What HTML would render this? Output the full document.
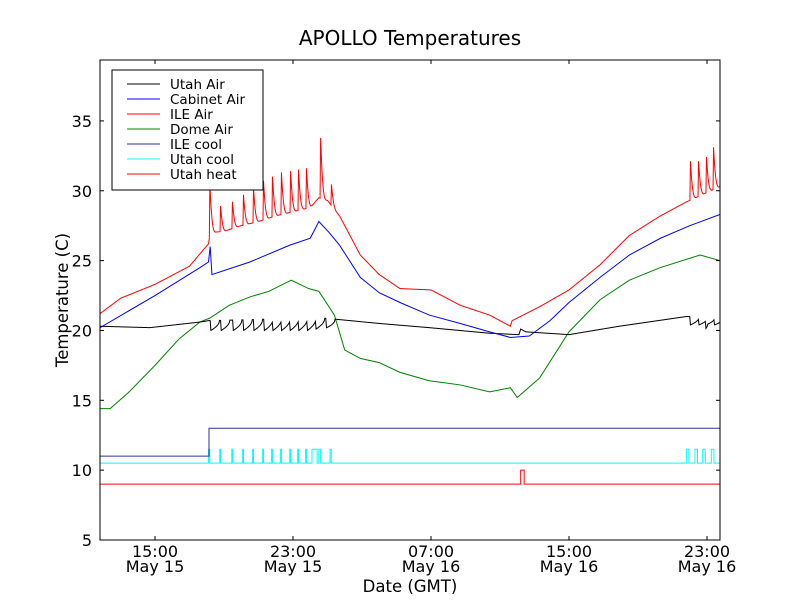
<!DOCTYPE html>
<html><head><meta charset="utf-8">
<style>
body{margin:0;background:#fff;}
svg{display:block;font-family:"DejaVu Sans","Liberation Sans",sans-serif;}
</style></head>
<body>
<svg id="chart" width="800" height="600" viewBox="0 0 800 600">
<rect width="800" height="600" fill="#fff"/>
<text x="410" y="45" font-size="20" text-anchor="middle">APOLLO Temperatures</text>
<defs><clipPath id="pc"><rect x="100" y="60" width="620" height="480"/></clipPath></defs>
<g id="series" clip-path="url(#pc)"></g>
<rect x="100" y="60" width="620" height="480" fill="none" stroke="#000" stroke-width="1"/>
<g id="axes"></g>
<text x="410" y="592" font-size="16.5" text-anchor="middle">Date (GMT)</text>
<text transform="translate(68,300) rotate(-90)" font-size="16.5" text-anchor="middle">Temperature (C)</text>
<g>
<rect x="112" y="70" width="151" height="120" fill="#fff" stroke="#000" stroke-width="1"/>
<g id="legend"></g>
</g>
</svg>
<script>
// ---- data (hours since 00:00 May 15 GMT) ----
const yTicks=[5,10,15,20,25,30,35];
const xTickHours=[15,23,31,39,47];
const xTickTimes=["15:00","23:00","07:00","15:00","23:00"];
const xTickDates=["May 15","May 15","May 16","May 16","May 16"];

const ileAirT=[11.81,13,15,17,18.1,18.2,19,20,21,22,23,24,24.5,25,25.7,26.9,28,29.2,31,32.7,34.4,35.6,35.7,37.3,39,40.8,42.5,44.3,45.8,47.75];
const ileAirV=[21.2,22.3,23.3,24.6,26.2,27.0,27.1,27.5,27.8,28.2,28.5,28.8,29.5,29.3,28.2,25.4,24.0,23.0,22.9,21.8,21.1,20.3,20.7,21.7,22.9,24.7,26.8,28.2,29.2,30.3];
const ileSpikeT=[18.15,18.77,19.46,20.10,20.68,21.26,21.78,22.30,22.83,23.29,23.75,24.57,25.20,46.01,46.48,46.94,47.35];
const ileSpikeV=[30.2,28.9,29.2,29.7,30.2,30.7,31.0,31.3,31.4,31.5,31.6,33.8,30.5,32.1,32.1,32.4,33.1];

const cabT=[11.81,15,17.61,18.1,18.2,18.3,20.5,22.8,24,24.5,25.1,25.7,26.9,28,29.2,30.9,32.7,34.4,35.6,36.7,37.9,39,40.8,42.5,44.3,46,47.75];
const cabV=[20.2,22.5,24.5,24.9,26.0,24.0,24.9,26.1,26.6,27.8,27.0,26.1,23.8,22.7,22.0,21.1,20.5,19.9,19.5,19.6,20.7,22.0,23.8,25.4,26.6,27.5,28.3];

const domeT=[11.81,12.4,13.5,15,16.4,17.6,18.2,19.3,20.5,21.6,22.9,23.9,24.5,25.4,26,26.9,28,29.2,30.9,32.7,34.4,35.6,36,37.3,39,40.8,42.5,44.3,46.6,47.75];
const domeV=[14.4,14.4,15.6,17.5,19.4,20.6,20.9,21.8,22.4,22.8,23.6,23.0,22.8,21.1,18.6,18.0,17.7,17.0,16.4,16.1,15.6,15.9,15.2,16.6,19.9,22.2,23.6,24.5,25.4,25.0];

const utahT=[11.81,14.7,17.6,18.1,24.6,25.5,28,30.9,34.4,36.1,36.2,36.5,39,41.9,45.8,47.75];
const utahV=[20.3,20.2,20.6,20.7,20.9,20.8,20.5,20.2,19.8,19.7,20.1,19.9,19.7,20.3,21.0,20.9];
const utahDipT=[18.2,18.8,19.5,20.1,20.7,21.3,21.8,22.3,22.8,23.3,23.8,24.3,24.9,46.0,46.5,46.9,47.4];
const utahDipV=[20.0,20.0,20.0,20.0,20.0,20.0,20.0,20.0,20.0,20.0,20.0,20.1,20.2,20.4,20.4,20.4,20.4];

const ileCoolLow=11, ileCoolHigh=13, ileCoolOn=18.13;
const utahCoolBase=10.5, utahCoolHigh=11.5;
const utahCoolOnT=[18.1,18.75,19.45,20.08,20.66,21.24,21.76,22.28,22.81,23.27,23.73,24.1,24.5,25.15,45.8,46.3,46.75,47.25];
const utahCoolOffT=[18.17,18.8,19.5,20.13,20.71,21.29,21.81,22.33,22.86,23.32,23.78,24.4,24.6,25.22,45.95,46.45,46.9,47.4];
const utahHeatBase=9, utahHeatHigh=10, utahHeatOn=36.2, utahHeatOff=36.4;

// ---- scales ----
const X=h=>155+(h-15)*17.25;
const Y=v=>540-(v-5)*13.97;
const NS='http://www.w3.org/2000/svg';
const sg=document.getElementById('series');
function interp(ts,vs,t){if(t<=ts[0])return vs[0];for(let i=1;i<ts.length;i++){if(t<=ts[i]){const f=(t-ts[i-1])/(ts[i]-ts[i-1]);return vs[i-1]+f*(vs[i]-vs[i-1]);}}return vs[vs.length-1];}
function line(pts,color,name){
 const p=document.createElementNS(NS,'polyline');
 p.setAttribute('points',pts.map(q=>X(q[0]).toFixed(2)+','+Y(q[1]).toFixed(2)).join(' '));
 p.setAttribute('fill','none');p.setAttribute('stroke',color);p.setAttribute('stroke-width','1');
 
 
 sg.appendChild(p);
}
function withEvents(bt,bv,et,ev,rise,decay,sharpUp){
 let times=[];for(let t=bt[0];t<=bt[bt.length-1];t+=0.05)times.push(t);
 bt.forEach(t=>times.push(t));
 et.forEach(t=>{times.push(t,t+rise,t+rise+0.02);for(let k=1;k<=6;k++)times.push(t+rise+decay*k/6);});
 times=[...new Set(times.map(t=>+t.toFixed(4)))].sort((a,b)=>a-b);
 return times.map(t=>{let v=interp(bt,bv,t);
  for(let i=0;i<et.length;i++){const dt=t-et[i];const b=interp(bt,bv,et[i]);const d=ev[i]-b;
   if(dt>0&&dt<=rise){v+=d*(dt/rise);}
   else if(dt>rise&&dt<=rise+decay){const f=(dt-rise)/decay;v+=d*Math.pow(1-f,sharpUp);}}
  return [t,v];});
}
line([[11.81,utahHeatBase],[utahHeatOn,utahHeatBase],[utahHeatOn,utahHeatHigh],[utahHeatOff,utahHeatHigh],[utahHeatOff,utahHeatBase],[47.75,utahHeatBase]],'#ff0000','utah-heat-line');
(function(){const pts=[[11.81,utahCoolBase]];utahCoolOnT.forEach((t,i)=>{pts.push([t,utahCoolBase],[t,utahCoolHigh],[utahCoolOffT[i],utahCoolHigh],[utahCoolOffT[i],utahCoolBase]);});pts.push([47.75,utahCoolBase]);line(pts,'#00ffff','utah-cool-line');})();
line([[11.81,ileCoolLow],[ileCoolOn,ileCoolLow],[ileCoolOn,ileCoolHigh],[47.75,ileCoolHigh]],'#3030a0','ile-cool-line');
line(domeT.map((t,i)=>[t,domeV[i]]),'#008000','dome-air-line');
line(withEvents(utahT,utahV,utahDipT,utahDipV,0.04,0.5,0.5),'#000000','utah-air-line');
line(cabT.map((t,i)=>[t,cabV[i]]),'#0000ff','cabinet-air-line');
line(withEvents(ileAirT,ileAirV,ileSpikeT,ileSpikeV,0.03,0.35,3),'#ff0000','ile-air-line');

// ---- axes ----
const ax=document.getElementById('axes');
function el(tag,attrs,name,txt){const e=document.createElementNS(NS,tag);for(const k in attrs)e.setAttribute(k,attrs[k]);if(txt!==undefined)e.textContent=txt;
 
 
 ax.appendChild(e);return e;}
yTicks.forEach(v=>{const y=Y(v);
 el('line',{x1:100,x2:104,y1:y,y2:y,stroke:'#000'},'y-tick');
 el('line',{x1:716,x2:720,y1:y,y2:y,stroke:'#000'},'y-tick-right');
 el('text',{x:92,y:y+6,'font-size':16,'text-anchor':'end'},'y-tick-label',String(v));});
xTickHours.forEach((h,i)=>{const x=X(h);
 el('line',{x1:x,x2:x,y1:536,y2:540,stroke:'#000'},'x-tick');
 el('line',{x1:x,x2:x,y1:60,y2:64,stroke:'#000'},'x-tick-top');
 el('text',{x:x,y:557,'font-size':16,'text-anchor':'middle'},'x-tick-time',xTickTimes[i]);
 el('text',{x:x,y:572,'font-size':16,'text-anchor':'middle'},'x-tick-date',xTickDates[i]);});

// ---- legend ----
const lg=document.getElementById('legend');
const legNames=["Utah Air","Cabinet Air","ILE Air","Dome Air","ILE cool","Utah cool","Utah heat"];
const legColors=["#000000","#0000ff","#ff0000","#008000","#3030a0","#00ffff","#ff0000"];
legNames.forEach((n,i)=>{const y=84+i*15;
 const g=document.createElementNS(NS,'g');
 
 
 const l=document.createElementNS(NS,'line');l.setAttribute('x1',127);l.setAttribute('x2',160);l.setAttribute('y1',y);l.setAttribute('y2',y);l.setAttribute('stroke',legColors[i]);
 
 
 const t=document.createElementNS(NS,'text');t.setAttribute('x',170);t.setAttribute('y',y+5);t.setAttribute('font-size',13.5);t.textContent=n;
 
 
 g.appendChild(l);g.appendChild(t);lg.appendChild(g);});
</script>
</body></html>
